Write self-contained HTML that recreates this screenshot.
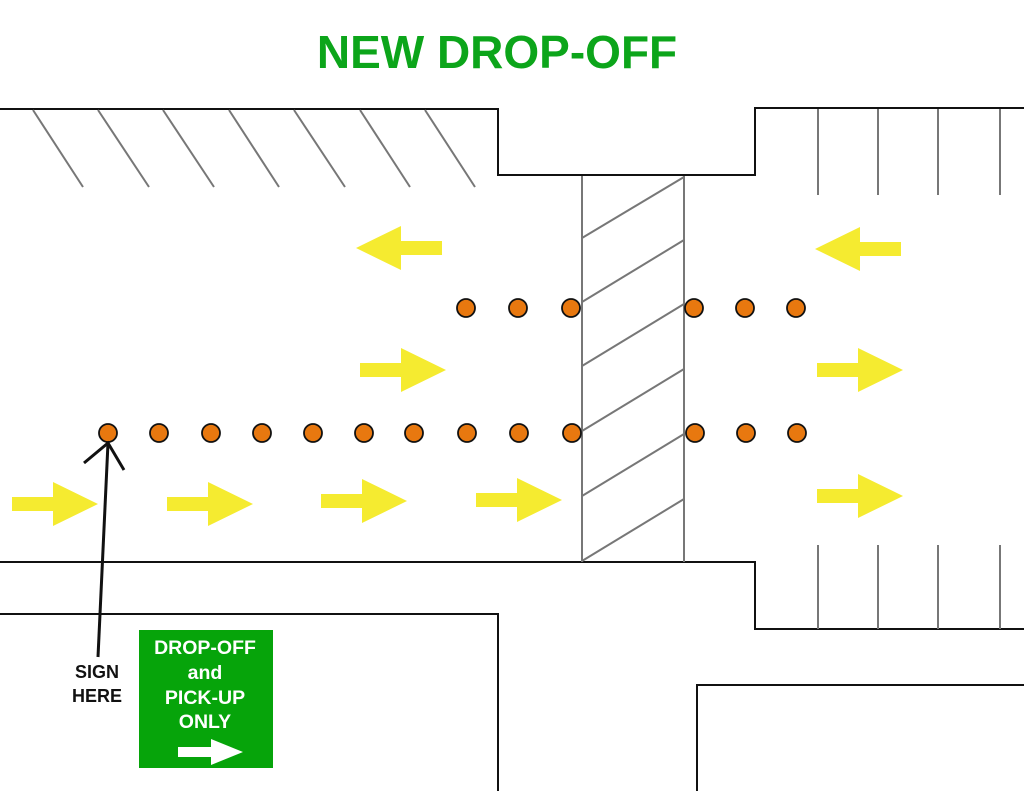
<!DOCTYPE html>
<html><head><style>body{margin:0;background:#fff}svg{display:block}</style></head><body>
<svg width="1024" height="791" viewBox="0 0 1024 791" xmlns="http://www.w3.org/2000/svg" font-family="Liberation Sans, sans-serif">
<text x="497" y="68" text-anchor="middle" font-size="46" font-weight="bold" fill="#0ca51a">NEW DROP-OFF</text>
<g fill="none" stroke="#111" stroke-width="2">
<polyline points="0,109 498,109 498,175 755,175 755,108 1024,108"/>
<polyline points="0,562 755,562 755,629 1024,629"/>
<polyline points="0,614 498,614 498,791"/>
<polyline points="1024,685 697,685 697,791"/>
</g>
<g stroke="#777" stroke-width="2">
<line x1="33" y1="110" x2="83" y2="187"/><line x1="98" y1="110" x2="149" y2="187"/><line x1="163" y1="110" x2="214" y2="187"/><line x1="229" y1="110" x2="279" y2="187"/><line x1="294" y1="110" x2="345" y2="187"/><line x1="360" y1="110" x2="410" y2="187"/><line x1="425" y1="110" x2="475" y2="187"/>
<line x1="582" y1="176" x2="582" y2="562"/><line x1="684" y1="176" x2="684" y2="562"/>
<line x1="582" y1="238" x2="684" y2="177"/><line x1="582" y1="302" x2="684" y2="240"/><line x1="582" y1="366" x2="684" y2="304"/><line x1="582" y1="431" x2="684" y2="369"/><line x1="582" y1="496" x2="684" y2="434"/><line x1="582" y1="561" x2="684" y2="499"/>
<line x1="818" y1="109" x2="818" y2="195"/><line x1="878" y1="109" x2="878" y2="195"/><line x1="938" y1="109" x2="938" y2="195"/><line x1="1000" y1="109" x2="1000" y2="195"/>
<line x1="818" y1="545" x2="818" y2="629"/><line x1="878" y1="545" x2="878" y2="629"/><line x1="938" y1="545" x2="938" y2="629"/><line x1="1000" y1="545" x2="1000" y2="629"/>
</g>
<defs>
<polygon id="ar" points="0,-7 41,-7 41,-22 86,0 41,22 41,7 0,7" fill="#f5eb30"/>
</defs>
<use href="#ar" transform="translate(442,248) scale(-1,1)"/>
<use href="#ar" transform="translate(901,249) scale(-1,1)"/>
<use href="#ar" transform="translate(360,370)"/>
<use href="#ar" transform="translate(817,370)"/>
<use href="#ar" transform="translate(817,496)"/>
<use href="#ar" transform="translate(12,504)"/>
<use href="#ar" transform="translate(167,504)"/>
<use href="#ar" transform="translate(321,501)"/>
<use href="#ar" transform="translate(476,500)"/>
<g fill="#e8780f" stroke="#111" stroke-width="1.8">
<circle cx="466" cy="308" r="9"/><circle cx="518" cy="308" r="9"/><circle cx="571" cy="308" r="9"/><circle cx="694" cy="308" r="9"/><circle cx="745" cy="308" r="9"/><circle cx="796" cy="308" r="9"/>
<circle cx="108" cy="433" r="9"/><circle cx="159" cy="433" r="9"/><circle cx="211" cy="433" r="9"/><circle cx="262" cy="433" r="9"/><circle cx="313" cy="433" r="9"/><circle cx="364" cy="433" r="9"/><circle cx="414" cy="433" r="9"/><circle cx="467" cy="433" r="9"/><circle cx="519" cy="433" r="9"/><circle cx="572" cy="433" r="9"/><circle cx="695" cy="433" r="9"/><circle cx="746" cy="433" r="9"/><circle cx="797" cy="433" r="9"/>
</g>
<g stroke="#111" stroke-width="3" fill="none">
<line x1="98" y1="657" x2="108" y2="443"/>
<polyline points="84,463 108,443 124,470"/>
</g>
<text x="97" y="678" text-anchor="middle" font-size="18" font-weight="bold" fill="#111">SIGN</text>
<text x="97" y="702" text-anchor="middle" font-size="18" font-weight="bold" fill="#111">HERE</text>
<rect x="139" y="630" width="134" height="138" fill="#06a40a"/>
<g fill="#fff" font-size="19.5" font-weight="bold" text-anchor="middle">
<text x="205" y="654">DROP-OFF</text>
<text x="205" y="679">and</text>
<text x="205" y="704">PICK-UP</text>
<text x="205" y="728">ONLY</text>
</g>
<polygon points="178,747 211,747 211,739 243,752 211,765 211,757 178,757" fill="#fff"/>
</svg>
</body></html>
